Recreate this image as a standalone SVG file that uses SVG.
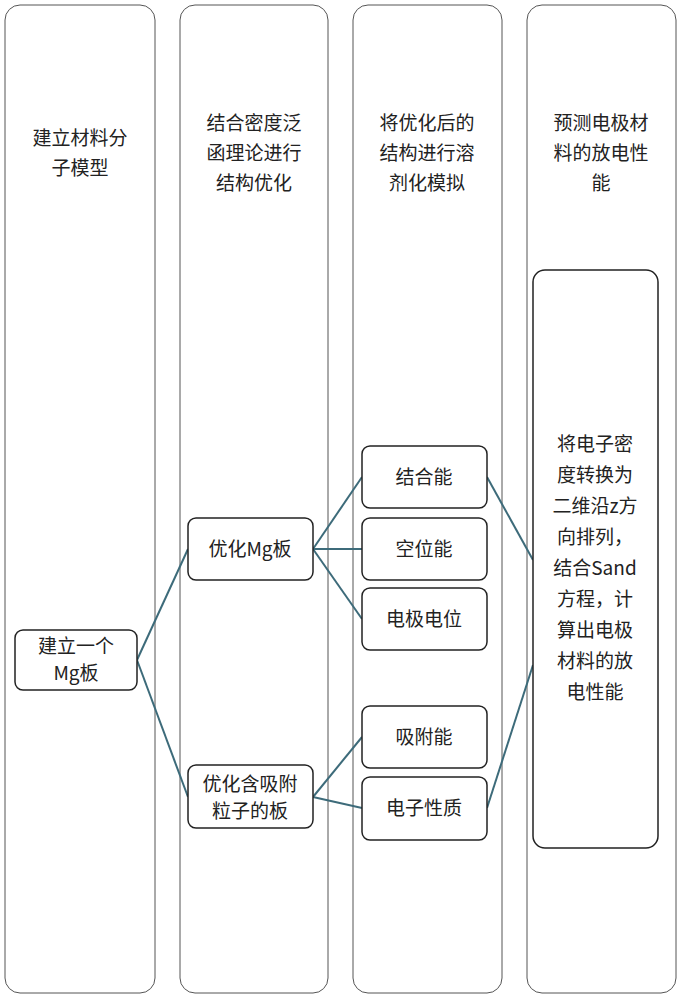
<svg xmlns="http://www.w3.org/2000/svg" width="680" height="1000" viewBox="0 0 680 1000">
<style>
.col{fill:#fff;stroke:#555;stroke-width:1}
.n{fill:#fff;stroke:#222;stroke-width:1.5}
text{font-family:"Noto Sans CJK SC","Noto Sans",sans-serif;font-size:19px;fill:#222;text-anchor:middle}
.c line{stroke:#3d6b7a;stroke-width:2}
</style>
<rect width="680" height="1000" fill="#fff"/>
<g id="col1"><rect class="col" x="5" y="5" width="150" height="988" rx="15"/><text x="80" y="145">建立材料分</text><text x="80" y="175">子模型</text></g>
<g id="col2"><rect class="col" x="180" y="5" width="148" height="988" rx="15"/><text x="254" y="130">结合密度泛</text><text x="254" y="160">函理论进行</text><text x="254" y="190">结构优化</text></g>
<g id="col3"><rect class="col" x="353" y="5" width="149" height="988" rx="15"/><text x="427" y="130">将优化后的</text><text x="427" y="160">结构进行溶</text><text x="427" y="190">剂化模拟</text></g>
<g id="col4"><rect class="col" x="527" y="5" width="149" height="988" rx="15"/><text x="601" y="130">预测电极材</text><text x="601" y="160">料的放电性</text><text x="601" y="190">能</text></g>
<g class="c">
<line x1="137" y1="660" x2="188" y2="549"/><line x1="137" y1="660" x2="188" y2="797"/>
<line x1="313" y1="549" x2="362" y2="477"/><line x1="313" y1="549" x2="362" y2="549"/><line x1="313" y1="549" x2="362" y2="619"/>
<line x1="313" y1="797" x2="362" y2="737"/><line x1="313" y1="797" x2="362" y2="808"/>
<line x1="487" y1="477" x2="533" y2="560"/><line x1="487" y1="808" x2="533" y2="665"/>
</g>
<g id="mg"><rect class="n" x="15" y="630" width="122" height="60" rx="8"/><text x="76" y="653">建立一个</text><text x="76" y="680">Mg板</text></g>
<g id="opt1"><rect class="n" x="188" y="518" width="125" height="62" rx="8"/><text x="250" y="556">优化Mg板</text></g>
<g id="opt2"><rect class="n" x="188" y="765" width="125" height="63" rx="8"/><text x="250" y="791">优化含吸附</text><text x="250" y="818">粒子的板</text></g>
<g id="n1"><rect class="n" x="362" y="446" width="125" height="62" rx="8"/><text x="424" y="484">结合能</text></g>
<g id="n2"><rect class="n" x="362" y="518" width="125" height="62" rx="8"/><text x="424" y="556">空位能</text></g>
<g id="n3"><rect class="n" x="362" y="588" width="125" height="62" rx="8"/><text x="424" y="626">电极电位</text></g>
<g id="n4"><rect class="n" x="362" y="706" width="125" height="62" rx="8"/><text x="424" y="744">吸附能</text></g>
<g id="n5"><rect class="n" x="362" y="777" width="125" height="63" rx="8"/><text x="424" y="815">电子性质</text></g>
<g id="big"><rect class="n" x="533" y="270" width="125" height="578" rx="12"/>
<text x="595" y="451">将电子密</text><text x="595" y="482">度转换为</text><text x="595" y="513">二维沿z方</text><text x="595" y="544">向排列，</text><text x="595" y="575">结合Sand</text><text x="595" y="606">方程，计</text><text x="595" y="637">算出电极</text><text x="595" y="668">材料的放</text><text x="595" y="699">电性能</text></g>
</svg>
